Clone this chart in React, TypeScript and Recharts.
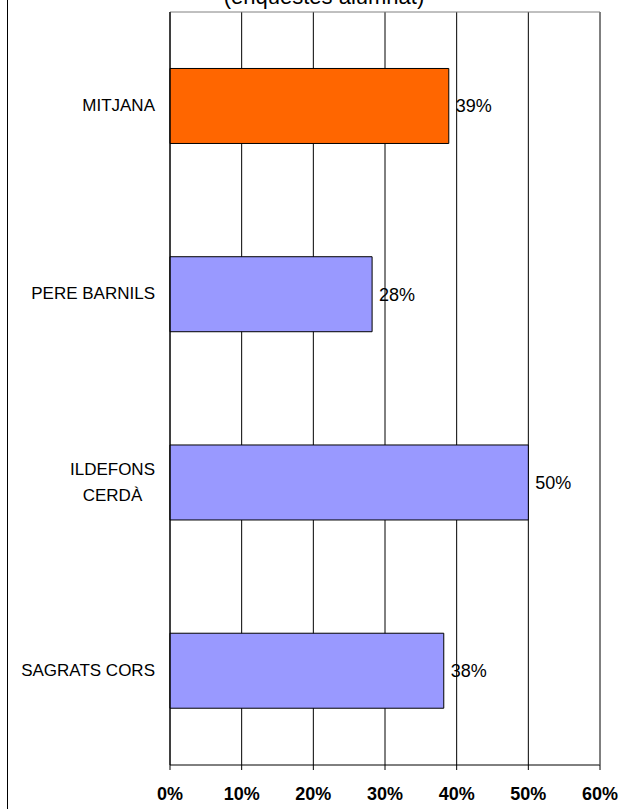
import React from 'react';
import { BarChart, Bar, XAxis, YAxis, CartesianGrid, Cell, LabelList } from 'recharts';

const categories = ['MITJANA', 'PERE BARNILS', 'ILDEFONS\nCERDÀ', 'SAGRATS CORS'];
const values = [38.9, 28.2, 50.0, 38.2];
const barColors = ['#FF6600', '#9999FF', '#9999FF', '#9999FF'];
const xTicks = [0, 10, 20, 30, 40, 50, 60];
const boundaryTicks = [0, 1, 2, 3, 4];
const title = '(enquestes alumnat)';

const data = categories.map((name, i) => ({ name, value: values[i], color: barColors[i] }));

const FONT = '"Liberation Sans", Arial, Helvetica, sans-serif';

let ctx: CanvasRenderingContext2D | null = null;
function measure(t: string, font: string): number {
  if (!ctx) ctx = document.createElement('canvas').getContext('2d');
  if (!ctx) return t.length * 10;
  ctx.font = font;
  return ctx.measureText(t).width;
}

const CategoryTick = (props: any) => {
  const { x, y, payload } = props;
  const lines = String(payload.value).split('\n');
  const lh = 26;
  const fs = 17;
  const font = `${fs}px "Liberation Sans"`;
  const maxW = Math.max(...lines.map((l) => measure(l, font)));
  const multi = lines.length > 1;
  const y0 = y - ((lines.length - 1) * lh) / 2;
  return (
    <g>
      {lines.map((l, i) => (
        <text
          key={i}
          x={multi ? x - maxW / 2 : x}
          y={y0 + i * lh}
          dy="0.3em"
          textAnchor={multi ? 'middle' : 'end'}
          fontSize={fs}
          fontFamily={FONT}
          fill="#000"
        >
          {l}
        </text>
      ))}
    </g>
  );
};

export default function App() {
  return (
    <div style={{ position: 'absolute', left: 0, top: 0, width: 628, height: 809, background: '#fff' }}>
      <BarChart
        width={628}
        height={809}
        data={data}
        layout="vertical"
        margin={{ top: 0, right: 0, bottom: 0, left: 0 }}
        barCategoryGap="30%"
      >
        <CartesianGrid horizontal={false} stroke="#000" strokeWidth={1} />
        <XAxis
          type="number"
          domain={[0, 60]}
          ticks={xTicks}
          interval={0}
          height={44}
          tickSize={5}
          tickMargin={17}
          stroke="#000"
          axisLine={{ stroke: '#000' }}
          tickLine={{ stroke: '#000' }}
          tickFormatter={(v: number) => `${v}%`}
          tick={{ fontSize: 18, fontWeight: 'bold', fill: '#000', fontFamily: FONT }}
        />
        <XAxis
          xAxisId="t"
          orientation="top"
          type="number"
          domain={[0, 60]}
          height={12}
          tick={false}
          tickLine={false}
          axisLine={{ stroke: '#808080' }}
        />
        <YAxis
          yAxisId={0}
          type="number"
          domain={[0, 4]}
          ticks={boundaryTicks}
          interval={0}
          allowDataOverflow
          width={5}
          tick={false}
          tickSize={5}
          axisLine={{ stroke: '#000' }}
          tickLine={{ stroke: '#000' }}
        />
        <YAxis
          yAxisId="cat"
          type="category"
          dataKey="name"
          width={165}
          tickSize={0}
          tickMargin={10}
          tickLine={false}
          axisLine={false}
          tick={<CategoryTick />}
          interval={0}
        />
        <YAxis
          yAxisId="r"
          orientation="right"
          type="number"
          domain={[0, 4]}
          allowDataOverflow
          width={28}
          tick={false}
          tickLine={false}
          axisLine={{ stroke: '#808080' }}
        />
        <Bar yAxisId="cat" dataKey="value" stroke="#000" strokeWidth={1} isAnimationActive={false}>
          {data.map((d, i) => (
            <Cell key={i} fill={d.color} />
          ))}
          <LabelList
            dataKey="value"
            position="right"
            offset={7}
            fill="#000"
            fontSize={18}
            fontFamily={FONT}
            formatter={(v: any) => `${Math.round(Number(v))}%`}
          />
        </Bar>
      </BarChart>
      <div style={{ position: 'absolute', left: 7, top: 0, width: 1, height: 809, background: '#000' }} />
      <svg
        width={628}
        height={20}
        style={{ position: 'absolute', left: 0, top: 0, pointerEvents: 'none', overflow: 'visible' }}
      >
        <text x={324} y={4} textAnchor="middle" fontSize={22} fontFamily={FONT} fill="#000">
          {title}
        </text>
      </svg>
    </div>
  );
}
